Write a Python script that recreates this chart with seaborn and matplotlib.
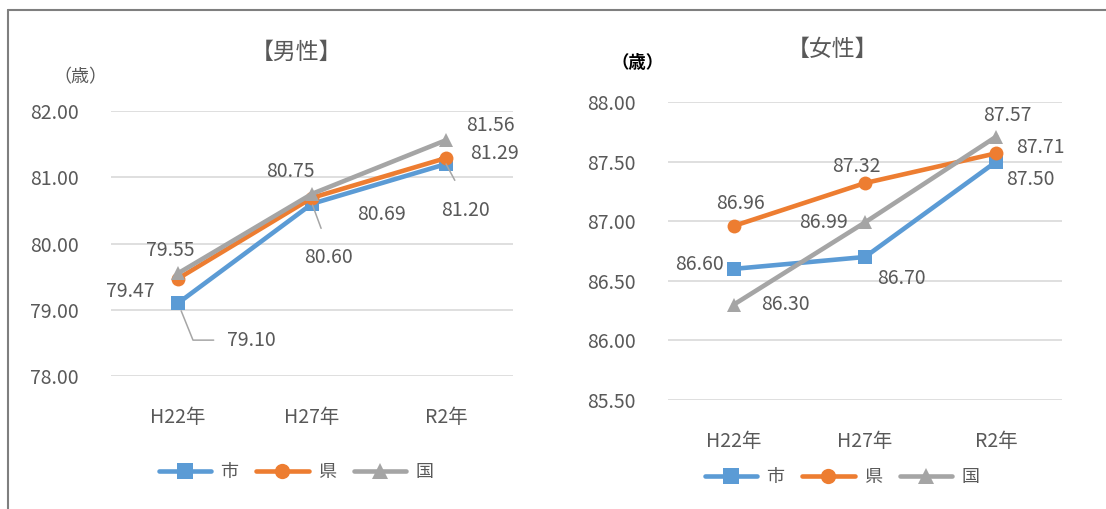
import matplotlib
matplotlib.use("Agg")
import matplotlib.pyplot as plt
from matplotlib.lines import Line2D
import seaborn as sns
import pandas as pd

# ---- data -------------------------------------------------------------
years = ["H22年", "H27年", "R2年"]
areas = ["市", "県", "国"]

male_city = [79.10, 80.60, 81.20]
male_pref = [79.47, 80.69, 81.29]
male_nation = [79.55, 80.75, 81.56]

female_city = [86.60, 86.70, 87.50]
female_pref = [86.96, 87.32, 87.57]
female_nation = [86.30, 86.99, 87.71]

male_ticks = [78.0, 79.0, 80.0, 81.0, 82.0]
female_ticks = [85.5, 86.0, 86.5, 87.0, 87.5, 88.0]

# ---- style ------------------------------------------------------------
sns.set_theme(style="white")
plt.rcParams["font.family"] = ["Noto Sans CJK JP", "DejaVu Sans"]

COLORS = {"市": "#5B9BD5", "県": "#ED7D31", "国": "#A5A5A5"}
MARKERS = {"市": "s", "県": "o", "国": "^"}
TEXT = "#595959"
GRID = "#D9D9D9"
LEADER = "#A6A6A6"
FS = 14


def long_frame(city, pref, nation):
    rows = []
    for area, vals in zip(areas, [city, pref, nation]):
        for y, v in zip(years, vals):
            rows.append({"year": y, "area": area, "value": v})
    return pd.DataFrame(rows)


fig = plt.figure(figsize=(11.06, 5.09), dpi=100)
ax_m = fig.add_axes([0.1004, 0.2613, 0.3635, 0.5206])
ax_f = fig.add_axes([0.6040, 0.2141, 0.3562, 0.5855])


def draw_panel(ax, df, ticks):
    sns.lineplot(data=df, x="year", y="value", hue="area", style="area",
                 hue_order=areas, style_order=areas, palette=COLORS,
                 markers=MARKERS, dashes=False, legend=False, ax=ax,
                 linewidth=3.3, markersize=10, markeredgewidth=0,
                 sort=False)
    ax.set_xlim(-0.5, len(years) - 0.5)
    ax.set_ylim(ticks[0], ticks[-1])
    ax.set_yticks(ticks)
    ax.set_yticklabels([f"{t:.2f}" for t in ticks])
    ax.set_xlabel("")
    ax.set_ylabel("")
    for s in ax.spines.values():
        s.set_visible(False)
    ax.yaxis.grid(True, color=GRID, linewidth=1.2)
    ax.xaxis.grid(False)
    ax.set_axisbelow(True)
    ax.tick_params(axis="y", length=0, pad=23, labelsize=FS, labelcolor=TEXT)
    ax.tick_params(axis="x", length=0, pad=22, labelsize=FS, labelcolor=TEXT)
    for l in ax.get_lines():
        l.set_solid_capstyle("round")
        l.set_clip_on(False)


def label(ax, x, v, dx, dy, leader=None):
    kw = dict(xy=(x, v), xytext=(dx, dy), textcoords="offset pixels",
              ha="center", va="center", fontsize=FS, color=TEXT,
              annotation_clip=False)
    if leader is not None:
        kw["arrowprops"] = dict(arrowstyle="-", color=LEADER, lw=1.1,
                                **leader)
    ax.annotate(f"{v:.2f}", **kw)


# ---- 男性 ----
draw_panel(ax_m, long_frame(male_city, male_pref, male_nation), male_ticks)

male_offsets = {
    "国": [(-8, 23), (-22, 22), (44, 15)],
    "県": [(-48, -13), (69, -17), (48, 5)],
    "市": [(73, -37), (16, -54), (19, -46)],
}
male_leaders = [
    dict(relpos=(0, 0.5), shrinkA=7, shrinkB=6,
         connectionstyle="angle,angleA=0,angleB=-68,rad=0"),
    dict(relpos=(0.5, 1), shrinkA=12, shrinkB=1),
    dict(relpos=(0.5, 1), shrinkA=13, shrinkB=0),
]
for area, vals in zip(areas, [male_city, male_pref, male_nation]):
    for i, v in enumerate(vals):
        dx, dy = male_offsets[area][i]
        label(ax_m, i, v, dx, dy, male_leaders[i] if area == "市" else None)

# ---- 女性 ----
draw_panel(ax_f, long_frame(female_city, female_pref, female_nation),
           female_ticks)

female_offsets = {
    "市": [(-34, 4), (36, -22), (34, -18)],
    "県": [(7, 22), (-9, 17), (11, 38)],
    "国": [(52, 0), (-42, 0), (44, -11)],
}
for area, vals in zip(areas, [female_city, female_pref, female_nation]):
    for i, v in enumerate(vals):
        dx, dy = female_offsets[area][i]
        label(ax_f, i, v, dx, dy)

# panel titles
fig.text(297 / 1106, 1 - 52 / 509, "【男性】", ha="center", va="center",
         fontsize=16.5, color=TEXT)
fig.text(832 / 1106, 1 - 49 / 509, "【女性】", ha="center", va="center",
         fontsize=16.5, color=TEXT)

# unit labels
fig.text(80 / 1106, 1 - 77 / 509, "（歳）", ha="center", va="center",
         fontsize=13, color=TEXT)
fig.text(638 / 1106, 1 - 63 / 509, "（歳）", ha="center", va="center",
         fontsize=12.5, color="black", fontweight="bold")


# ---- legends ----
def legend_for(cx, cy):
    handles = [Line2D([], [], color=COLORS[a], marker=MARKERS[a], lw=3.3,
                      markersize=11, markeredgewidth=0,
                      solid_capstyle="round") for a in areas]
    fig.legend(handles, areas, loc="center",
               bbox_to_anchor=(cx / 1106, 1 - cy / 509), ncol=3,
               frameon=False, fontsize=13, labelcolor=TEXT,
               handlelength=2.9, handletextpad=0.5, columnspacing=1.0)


legend_for(296, 472)
legend_for(842, 477)

# outer frame of the figure block
fig.add_artist(Line2D([8 / 1106, 1.0], [1 - 10 / 509, 1 - 10 / 509],
                      transform=fig.transFigure, color="#7F7F7F", lw=1.5))
fig.add_artist(Line2D([8 / 1106, 8 / 1106], [1 - 10 / 509, 0.0],
                      transform=fig.transFigure, color="#7F7F7F", lw=1.5))

fig.savefig("out.png", dpi=100)
